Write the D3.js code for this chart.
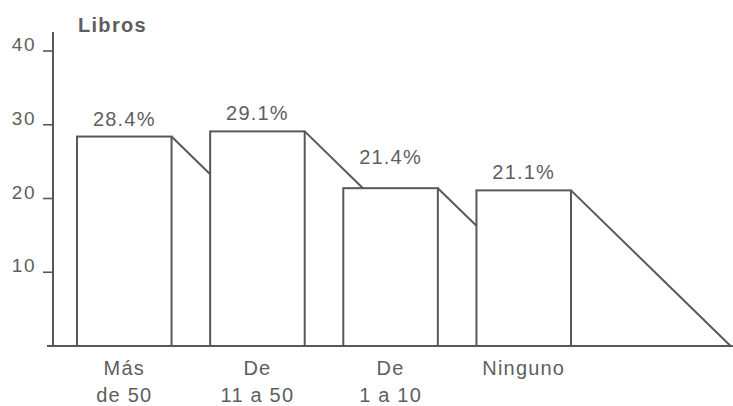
<!DOCTYPE html>
<html>
<head>
<meta charset="utf-8">
<script src="https://cdn.jsdelivr.net/npm/d3@7"></script>
<style>
  html, body { margin: 0; padding: 0; background: #ffffff; }
  svg { display: block; }
  text { font-family: "Liberation Sans", Arial, Helvetica, sans-serif; fill: #5e5e5e; }
</style>
</head>
<body>
<svg id="chart" width="733" height="406"></svg>
<script>
// ---- data ----
const categories = ["Más de 50", "De 11 a 50", "De 1 a 10", "Ninguno"];
const categoryLines = [["Más", "de 50"], ["De", "11 a 50"], ["De", "1 a 10"], ["Ninguno"]];
const values = [28.4, 29.1, 21.4, 21.1];
const yTicks = [10, 20, 30, 40];
const axisTitle = "Libros";

// ---- layout ----
const W = 733, H = 406;
const axisX = 53, baseY = 346, topY = 51;
const stroke = "#585858";
const svg = d3.select("#chart");

const y = d3.scaleLinear().domain([0, 40]).range([baseY, topY]);
const x = d3.scaleBand().domain(categories).range([77, 571]).paddingInner(0.29).paddingOuter(0);

// y axis line
svg.append("line").attr("x1", axisX).attr("x2", axisX).attr("y1", 32).attr("y2", baseY)
  .attr("stroke", stroke).attr("stroke-width", 2);
// baseline
svg.append("line").attr("x1", 47).attr("x2", W).attr("y1", baseY).attr("y2", baseY)
  .attr("stroke", stroke).attr("stroke-width", 2);

// ticks
const tg = svg.append("g");
yTicks.forEach(t => {
  tg.append("line").attr("x1", axisX - 10).attr("x2", axisX).attr("y1", y(t)).attr("y2", y(t))
    .attr("stroke", stroke).attr("stroke-width", 1.6);
  tg.append("text").attr("x", 36).attr("y", y(t)).attr("text-anchor", "end")
    .attr("font-size", 19).attr("letter-spacing", 1.5).text(t);
});

// axis title
svg.append("text").attr("x", 78).attr("y", 32).attr("font-size", 20).attr("font-weight", "bold")
  .attr("letter-spacing", 1.3).attr("fill", "#6a6a6a").text(axisTitle);

// bars
const bars = categories.map((c, i) => ({
  c, v: values[i], x0: x(c), x1: x(c) + x.bandwidth(), top: y(values[i])
}));

svg.append("g").selectAll("rect").data(bars).join("rect")
  .attr("x", d => d.x0).attr("y", d => d.top)
  .attr("width", d => d.x1 - d.x0).attr("height", d => baseY - d.top)
  .attr("fill", "none").attr("stroke", stroke).attr("stroke-width", 2);

// diagonal "shadow" lines from top-right corners
const slope = 0.975;
const raise = bars.map(() => 0);
bars.forEach((b, i) => {
  let ex, ey;
  const nb = bars[i + 1];
  if (nb) {
    const yAtLeft = b.top + (nb.x0 - b.x1) * slope;
    if (yAtLeft >= nb.top) { ex = nb.x0; ey = yAtLeft; }
    else { ey = nb.top; ex = b.x1 + (nb.top - b.top) / slope; raise[i + 1] = 13; }
  } else {
    ey = baseY; ex = b.x1 + (baseY - b.top) / slope;
  }
  svg.append("line").attr("x1", b.x1).attr("y1", b.top).attr("x2", ex).attr("y2", ey)
    .attr("stroke", stroke).attr("stroke-width", 2);
});

// value labels
svg.append("g").selectAll("text").data(bars).join("text")
  .attr("x", d => (d.x0 + d.x1) / 2)
  .attr("y", (d, i) => d.top - 11 - raise[i])
  .attr("text-anchor", "middle").attr("font-size", 20).attr("letter-spacing", 1.2)
  .text(d => d.v.toFixed(1) + "%");

// category labels
const cg = svg.append("g");
bars.forEach((b, i) => {
  categoryLines[i].forEach((line, j) => {
    cg.append("text").attr("x", (b.x0 + b.x1) / 2).attr("y", 375 + j * 27)
      .attr("text-anchor", "middle").attr("font-size", 20).attr("letter-spacing", 1.2)
      .attr("xml:space", "preserve").text(line);
  });
});
</script>
</body>
</html>
